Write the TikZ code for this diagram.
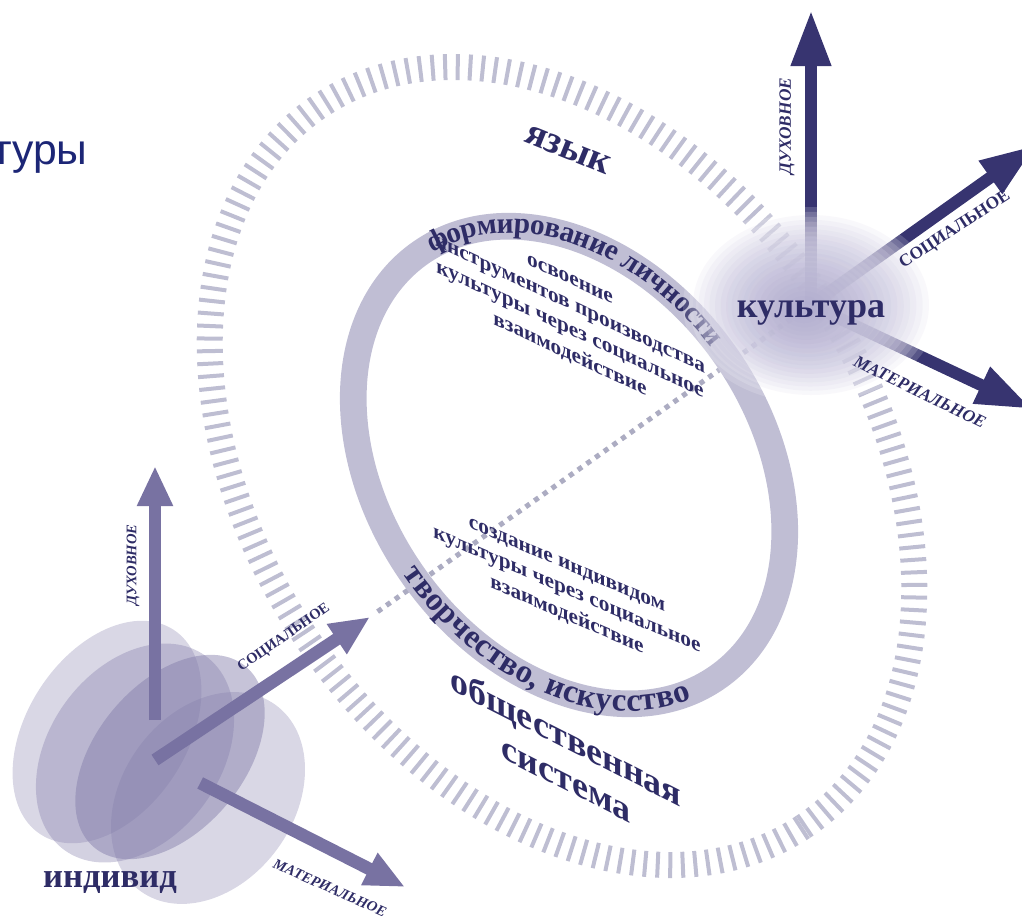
\documentclass[tikz,border=0pt]{standalone}
\usepackage{fontspec}
\setmainfont{Liberation Serif}
\newfontfamily\sansfont{Liberation Sans}
\usetikzlibrary{arrows.meta,decorations.markings,decorations.text}

\definecolor{navy}{RGB}{46,44,102}
\definecolor{darkarrow}{RGB}{55,52,112}
\definecolor{indarrow}{RGB}{120,114,162}
\definecolor{indfill}{RGB}{128,122,168}
\definecolor{bandgray}{RGB}{192,190,212}
\definecolor{tickgray}{RGB}{190,190,210}
\definecolor{dotgray}{RGB}{172,172,194}
\definecolor{blobcol}{RGB}{160,154,198}
\definecolor{titleblue}{RGB}{28,38,118}

\tikzset{
  bigtxt/.style={font=\fontsize{29}{28}\selectfont\bfseries, text=navy, inner sep=0pt},
  midtxt/.style={font=\fontsize{16}{19}\selectfont\bfseries, text=navy, align=center, inner sep=0pt},
  axlbl/.style={font=\fontsize{#1}{#1}\selectfont\bfseries\itshape, text=navy, inner sep=0pt},
  axlblup/.style={font=\fontsize{#1}{#1}\selectfont\bfseries, text=navy, inner sep=0pt},
  carrow/.style={draw=darkarrow, line width=9pt, -{Triangle[length=42pt,width=28pt]}},
  iarrow/.style={draw=indarrow, line width=9.5pt, -{Triangle[length=30pt,width=25pt]}},
  tickline/.style={draw=tickgray, line width=3pt},
  bandline/.style={draw=bandgray, line width=20pt},
  dotline/.style={draw=dotgray, line width=3.8pt, dash pattern=on 3.8pt off 4.2pt},
  disc/.style={fill=indfill, fill opacity=#1},
}

\begin{document}
\begin{tikzpicture}[x=0.75pt, y=0.75pt]
\useasboundingbox (0,0) rectangle (1022,-915);

% title fragment
\node[font=\sansfont\fontsize{32}{32}\selectfont, text=titleblue, anchor=base west, inner sep=0pt] (title) at (-8,-164) {туры};

% outer ring of ticks
\begin{scope}[shift={(562,-466)}, rotate=-56]
  \path[decorate, decoration={markings, mark=between positions 0 and 1 step 9.4pt with {\draw[tickline] (0,-9.75pt) -- (0,9.75pt);}}] (0,0) ellipse [x radius=434, y radius=308];
\end{scope}

\coordinate (cultc) at (811,-305);
\coordinate (indc) at (155,-760);
\coordinate (isoc) at (370,-617);

% dotted link
\draw[dotline, shorten <=7pt] (isoc) -- (cultc);

% inner band
\begin{scope}[shift={(569,-465)}, rotate=-55]
  \draw[bandline] (0,0) ellipse [x radius=259, y radius=191];
  \path[decorate, decoration={text along path, text align=center, raise=-5pt,
    text={|\fontsize{22}{22}\selectfont\bfseries\color{navy}|формирование личности}}]
    (195.5:259 and 191) arc [start angle=195.5, end angle=79.5, x radius=259, y radius=191];
  \path[decorate, decoration={text along path, text align=center, raise=-5.5pt,
    text={|\fontsize{24.5}{24.5}\selectfont\bfseries\color{navy}|творчество, искусство}}]
    (254:259 and 191) arc [start angle=254, end angle=370, x radius=259, y radius=191];
\end{scope}

% texts inside the band
\node[midtxt, yslant=-0.47] (upper) at (570,-319) {освоение\\инструментов производства\\культуры через социальное\\взаимодействие};
\node[midtxt, yslant=-0.43] (lower) at (567,-592) {создание индивидом\\культуры через социальное\\взаимодействие};

\node[bigtxt, rotate=-22] (lang) at (568,-150) {язык};
\node[bigtxt, font=\fontsize{27}{31.5}\selectfont\bfseries, yslant=-0.51, align=center] (society) at (566,-757) {общественная\\система};

% culture
\coordinate (cup) at (811,-10);
\coordinate (csoc) at (1036,-145);
\coordinate (cmat) at (1032,-409);
\draw[carrow] (cultc) -- (cup);
\draw[carrow] (cultc) -- (csoc);
\draw[carrow] (cultc) -- (cmat);
\foreach \s in {1,0.95,...,0.05}
  \fill[white, opacity=0.17] (cultc) ellipse [x radius={128*\s}, y radius={98*\s}];
\foreach \s in {1,0.95,...,0.05}
  \fill[blobcol, opacity=0.065] ([xshift={-6*(1-\s)}, yshift={-4*(1-\s)}]cultc) ellipse [x radius={118*\s}, y radius={90*\s}];
\node[bigtxt, font=\fontsize{27}{27}\selectfont\bfseries, anchor=base] (cult) at (811,-317) {культура};
\node[axlbl=13, rotate=90] (cdux) at (787,-126) {ДУХОВНОЕ};
\node[axlblup=13, rotate=33] (csocl) at (955,-230) {СОЦИАЛЬНОЕ};
\node[axlbl=13, rotate=-26] (cmatl) at (920,-392) {МАТЕРИАЛЬНОЕ};

% individual
\fill[disc=0.3, rotate around={-33:(107,-732)}] (107,-732) ellipse [x radius=80, y radius=122];
\fill[disc=0.35, rotate around={-36:(135,-753)}] (135,-753) ellipse [x radius=86, y radius=120];
\fill[disc=0.45, rotate around={-40:(170,-757)}] (170,-757) ellipse [x radius=74, y radius=118];
\fill[disc=0.3, rotate around={-36:(208,-798)}] (208,-798) ellipse [x radius=86, y radius=115];
\coordinate (iup) at (155,-466);
\coordinate (imat) at (405,-887);
\draw[iarrow, shorten <=30pt] (indc) -- (iup);
\draw[iarrow] (indc) -- (isoc);
\draw[iarrow, shorten <=38pt] (indc) -- (imat);
\node[axlbl=11, rotate=90] (idux) at (133,-565) {ДУХОВНОЕ};
\node[axlblup=11, rotate=35] (isocl) at (284,-638) {СОЦИАЛЬНОЕ};
\node[axlbl=11, rotate=-24] (imatl) at (330,-888) {МАТЕРИАЛЬНОЕ};
\node[bigtxt, font=\fontsize{26}{26}\selectfont\bfseries, anchor=base] (ind) at (110,-887) {индивид};
\end{tikzpicture}
\end{document}
